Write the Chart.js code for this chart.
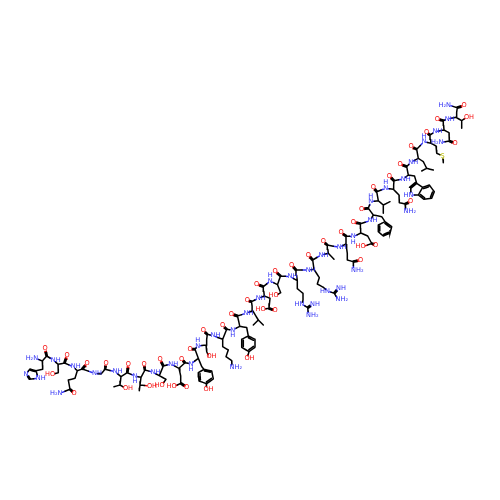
<!DOCTYPE html>
<html><head><meta charset="utf-8">
<style>html,body{margin:0;padding:0;background:#fff}canvas{display:block}</style>
<script src="https://cdn.jsdelivr.net/npm/chart.js@4"></script>
</head><body><canvas id="c" width="500" height="500"></canvas>
<script>
// backbone residues: id, N, CA, C, O, N label
const backboneAtoms = [
 [1, 35.7,358.3, 42.3,361, 46.7,356, 45,348.7, "H₂N"],
 [2, 53.3,360, 58,364.3, 64.5,363, 67,355.3, "NH"],
 [3, 73.3,366.7, 77.3,370.7, 82.3,369, 87,363.3, "NH"],
 [4, 94.5,373.3, 101,374, 105,369.3, 106,363.3, "NH"],
 [5, 115,371.7, 121,376.7, 127.3,372.7, 128.3,364.3, "NH"],
 [6, 135,376, 141,377.3, 145,370, 144,364, "N_"],
 [7, 153,372.3, 159.3,375.7, 163.3,366, 160,359.3, "NH"],
 [8, 170.7,364, 179,368.3, 185,362.7, 181.7,359.3, "NH"],
 [9, 191,364, 198.3,358.3, 195,349.3, 190,349, "N_"],
 [10, 197.7,346, 206,345, 207.3,334.3, 203.3,330.7, "N^"],
 [11, 213,335.7, 222.7,339.3, 226.7,329.3, 222.7,325.7, "NH"],
 [12, 232.7,330, 239.8,326.3, 237.5,316, 231.4,314, "N_"],
 [13, 246,313.3, 252.7,310.7, 251.5,301.7, 247.3,300.7, "NH"],
 [14, 258.3,298.3, 264.3,296, 263.3,286.7, 256.7,284, "NH"],
 [15, 270.3,281, 277.5,284.7, 280.5,276, 275,271, "N^"],
 [16, 290,276.7, 297.3,280.7, 296,270, 291.7,265, "NH"],
 [17, 308.3,270, 314,269.3, 312.7,260, 308.3,255, "NH"],
 [18, 321,255, 328.3,253.3, 327.3,245, 323.3,241.7, "NH"],
 [19, 339.3,247.3, 346,244, 346,236, 341,232.7, "NH"],
 [20, 353.3,236.7, 360.9,233, 360.4,223.7, 353.3,222.2, "N_"],
 [21, 370,220.7, 373.3,215, 368.3,208.3, 361.7,209, "NH"],
 [22, 370.7,201.7, 378.3,200.7, 376.7,191.7, 373.3,187.3, "N^"],
 [23, 385.7,188.3, 393.3,189.3, 394,180.7, 389.3,176, "N^"],
 [24, 403.3,179, 408.3,175, 406.7,166.7, 400,164, "NH"],
 [25, 410.7,162.3, 418.3,158.3, 416.7,149.3, 411,146.7, "NH"],
 [26, 424,141.7, 431,143.3, 430,135, 426.7,132.7, "N^"],
 [27, 435,131.7, 444,130, 443.3,120.7, 437.3,119, "NH"],
 [28, 447.3,119, 456,117.3, 457.3,107.7, 464,105.7, "NH"]
];
// side-chain atoms: id, x, y, element, label
const sideAtoms = [
 ["T",448.5,105,"N","H₂N"],
 ["1b",42.7,369.3,"C",""],["1g",36,370.7,"C",""],["1d",30,369,"C",""],["1e",26,374,"N","N"],["1f",29.3,379.3,"C",""],["1h",38.3,378.3,"N","NH"],
 ["2b",58.3,372.7,"C",""],["2o",52.5,374.3,"O","HO"],
 ["3b",75,378.3,"C",""],["3g",68.3,380,"C",""],["3d",70,389.3,"C",""],["3e",74,393,"O","O"],["3f",60,393.3,"N","H₂N"],
 ["5b",120,385,"C",""],["5m",114,386.7,"C",""],["5o",125.5,388.3,"O","OH"],
 ["6b",140,385,"C",""],["6m",139.3,390.7,"C",""],["6o",149.5,386,"O","OH"],
 ["7b",166,379.3,"C",""],["7o",162,385,"O","HO"],
 ["8b",180.7,376,"C",""],["8g",180.7,383.3,"C",""],["8o",186.7,387.3,"O","O"],["8p",174,386.7,"O","HO"],
 ["9b",201.7,366.5,"C",""],["9r1",204,369.3,"C",""],["9r2",211.7,371,"C",""],["9r3",213.3,379,"C",""],["9r4",206.7,383.7,"C",""],["9r5",199,381,"C",""],["9r6",198.3,372.7,"C",""],["9o",206,389.3,"O","OH"],
 ["10b",206.7,351.7,"C",""],["10o",209,356.7,"O","OH"],
 ["11b",222.7,346.7,"C",""],["11c",228.3,350,"C",""],["11d",226,356.7,"C",""],["11e",231.7,360.7,"C",""],["11f",232,367.5,"N","NH₂"],
 ["12b",246.7,327.5,"C",""],["12r1",248.3,336,"C",""],["12r2",255,339.3,"C",""],["12r3",255,347.3,"C",""],["12r4",249,351.7,"C",""],["12r5",241.7,347.3,"C",""],["12r6",241.7,339.3,"C",""],["12o",247,358.3,"O","OH"],
 ["13b",258.3,320,"C",""],["13m",253.3,325,"C",""],["13n",263.3,325,"C",""],
 ["14b",270,298.3,"C",""],["14g",269,308.3,"C",""],["14o",275,310.7,"O","O"],["14p",263,309.3,"O","HO"],
 ["15b",280.7,292.7,"C",""],["15o",276,295.5,"O","HO"],
 ["16b",297.3,288.7,"C",""],["16c",303,293.3,"C",""],["16d",303,300,"C",""],["16e",302,304,"N","HN"],["16f",307.7,307.7,"C",""],["16g",312.5,304.3,"N","NH"],["16h",308.5,315,"N","NH₂"],
 ["17b",319.3,277.7,"C",""],["17c",317.3,284,"C",""],["17d",323.3,287.3,"C",""],["17e",327.5,291,"N","HN"],["17f",334.3,293.3,"C",""],["17g",338.5,288.3,"N","NH"],["17h",338,299.3,"N","NH₂"],
 ["18b",334,259.3,"C",""],
 ["19b",347.3,253.3,"C",""],["19c",347.3,260,"C",""],["19d",353.3,261.7,"C",""],["19e",360.7,260,"O","O"],["19f",353.5,270,"N","NH₂"],
 ["20b",367.7,236,"C",""],["20g",371.7,243.5,"C",""],["20o",375.5,245,"O","O"],["20p",363,246.7,"O","HO"],
 ["21b",381.7,216.7,"C",""],["21r1",385,221.7,"C",""],["21r2",391.7,226.7,"C",""],["21r3",390,233.3,"C",""],["21r4",383.3,236,"C",""],["21r5",378.3,231.7,"C",""],["21r6",378.3,225,"C",""],
 ["22b",383.3,205,"C",""],["22m",390,201.7,"C",""],["22n",383.3,213.3,"C",""],
 ["23b",399,195,"C",""],["23c",399.3,202.7,"C",""],["23d",405,204,"C",""],["23e",410.7,201.7,"O","O"],["23f",406,211.7,"N","NH₂"],
 ["24b",414.5,176,"C",""],["24c",416.7,183.3,"C",""],["24d",410.7,188.3,"C",""],["24e",411,195,"N","HN"],["24f",418.3,195,"C",""],["24g",422.7,187.3,"C",""],["24h",429.3,185,"C",""],["24i",434.3,191.7,"C",""],["24j",431.7,198.3,"C",""],["24k",424,199.3,"C",""],
 ["25b",423.3,161.7,"C",""],["25c",426.7,168.3,"C",""],["25m",421.7,171,"C",""],["25n",433.3,170,"C",""],
 ["26b",436,146,"C",""],["26c",436.7,153.3,"C",""],["26s",442.7,156,"S","S"],["26m",443.3,162.7,"C",""],
 ["27b",449,132.7,"C",""],["27c",449.3,141,"C",""],["27o",455,143.3,"O","O"],["27n",441,142.3,"N","H₂N"],
 ["28b",461.7,120.7,"C",""],["28m",461.7,128.3,"C",""],["28o",466.5,117.3,"O","OH"]
];
const sideChains = [
 ["1A","1b","1g","1d","1e","1f","1h","1g"],["2A","2b","2o"],["3A","3b","3g","3d","3f"],
 ["5A","5b","5m"],["5b","5o"],["6A","6b","6m"],["6b","6o"],["7A","7b","7o"],
 ["8A","8b","8g","8p"],["9A","9b","9r1"],["9r4","9o"],["10A","10b","10o"],
 ["11A","11b","11c","11d","11e","11f"],["12A","12b","12r1"],["12r4","12o"],
 ["13A","13b","13m"],["13b","13n"],["14A","14b","14g","14p"],["15A","15b","15o"],
 ["16A","16b","16c","16d","16e","16f","16h"],["17A","17b","17c","17d","17e","17f","17h"],
 ["18A","18b"],["19A","19b","19c","19d","19f"],["20A","20b","20g","20p"],
 ["21A","21b","21r1"],["22A","22b","22m"],["22b","22n"],["23A","23b","23c","23d","23f"],
 ["24A","24b","24c","24d","24e","24f","24g","24c"],["24f","24k"],["24g","24h"],
 ["25A","25b","25c","25m"],["25c","25n"],["26A","26b","26c","26s","26m"],
 ["27A","27b","27c","27n"],["28A","28b","28m"],["28b","28o"],["28C","T"]
];
const sideDoubles = [["3d","3e"],["8g","8o"],["14g","14o"],["16f","16g"],["17f","17g"],["19d","19e"],["20g","20o"],["23d","23e"],["27c","27o"]];
const rings = [
 [["1g","1d","1e","1f","1h"],[0,2]],
 [["9r1","9r2","9r3","9r4","9r5","9r6"],[0,2,4]],
 [["12r1","12r2","12r3","12r4","12r5","12r6"],[0,2,4]],
 [["21r1","21r2","21r3","21r4","21r5","21r6"],[0,2,4]],
 [["24f","24g","24h","24i","24j","24k"],[1,3,5]]
];
const indoleDoubles = [["24c","24d"]];
const colors = {C:"#000000",N:"#2f2ff5",O:"#f50d0d",S:"#b8b800"};

const A = {};
backboneAtoms.forEach(r=>{const i=r[0];
 A[i+"N"]={x:r[1],y:r[2],el:"N",lab:r[9]};
 A[i+"A"]={x:r[3],y:r[4],el:"C",lab:""};
 A[i+"C"]={x:r[5],y:r[6],el:"C",lab:""};
 A[i+"O"]={x:r[7],y:r[8],el:"O",lab:"O"};
});
sideAtoms.forEach(r=>{A[r[0]]={x:r[1],y:r[2],el:r[3],lab:r[4]};});
const bonds=[], doubles=[];
backboneAtoms.forEach((r,k)=>{const i=r[0];
 bonds.push([i+"N",i+"A"],[i+"A",i+"C"]);
 doubles.push([i+"C",i+"O"]);
 if(k<backboneAtoms.length-1) bonds.push([i+"C",(i+1)+"N"]);
});
sideChains.forEach(c=>{for(let i=0;i<c.length-1;i++)bonds.push([c[i],c[i+1]]);});
sideDoubles.forEach(d=>doubles.push(d));
const series={C:[],N:[],O:[],S:[]};
function seg(el,x1,y1,x2,y2){series[el].push({x:x1,y:y1},{x:x2,y:y2},{x:null,y:null});}
function drawBond(a,b,ox,oy){
 const dx=b.x-a.x,dy=b.y-a.y,l=Math.hypot(dx,dy)||1,ux=dx/l,uy=dy/l,T=2.6;
 const ta=a.lab?T:0,tb=b.lab?T:0;
 const x1=a.x+ux*ta+ox,y1=a.y+uy*ta+oy,x2=b.x-ux*tb+ox,y2=b.y-uy*tb+oy;
 const mx=(a.x+b.x)/2+ox,my=(a.y+b.y)/2+oy;
 seg(a.el,x1,y1,mx,my);seg(b.el,mx,my,x2,y2);
}
bonds.forEach(b=>drawBond(A[b[0]],A[b[1]],0,0));
doubles.forEach(d=>{const a=A[d[0]],b=A[d[1]],dx=b.x-a.x,dy=b.y-a.y,l=Math.hypot(dx,dy)||1;
 const nx=-dy/l*0.7,ny=dx/l*0.7;drawBond(a,b,nx,ny);drawBond(a,b,-nx,-ny);});
rings.forEach(r=>{const ids=r[0],n=ids.length;let cx=0,cy=0;ids.forEach(i=>{cx+=A[i].x;cy+=A[i].y;});cx/=n;cy/=n;
 ids.forEach((id,i)=>{drawBond(A[id],A[ids[(i+1)%n]],0,0);});
 r[1].forEach(e=>{const p=A[ids[e]],q=A[ids[(e+1)%n]];
  const f=v=>({x:v.x+(cx-v.x)*0.24,y:v.y+(cy-v.y)*0.24,el:v.el,lab:v.lab});
  drawBond(f(p),f(q),0,0);});
});
indoleDoubles.forEach(d=>{const a=A[d[0]],b=A[d[1]];drawBond(a,b,-1.2,-1);});

const labelPlugin={id:"atomLabels",afterDatasetsDraw(ch){
 const c=ch.ctx,X=ch.scales.x,Y=ch.scales.y;c.save();
 c.font="6.6px 'DejaVu Sans'";c.textBaseline="middle";
 Object.values(A).forEach(a=>{if(!a.lab)return;
  const x=X.getPixelForValue(a.x),y=Y.getPixelForValue(a.y);c.fillStyle=colors[a.el];
  const first=a.el,w=c.measureText(first).width/2,L=a.lab;
  if(L==="N_"||L==="N^"){c.textAlign="center";c.fillText("N",x,y);c.fillText("H",x,y+(L==="N_"?5.6:-5.6));}
  else if(L.startsWith(first)&&L.length>1){c.textAlign="left";c.fillText(L,x-w,y);}
  else if(L.length>1){c.textAlign="right";c.fillText(L,x+w,y);}
  else{c.textAlign="center";c.fillText(L,x,y);}
 });c.restore();}};

new Chart(document.getElementById("c"),{type:"scatter",
 data:{datasets:Object.keys(series).map(k=>({data:series[k],showLine:true,spanGaps:false,borderColor:colors[k],borderWidth:1.5,pointRadius:0,borderCapStyle:"round"}))},
 options:{responsive:false,animation:false,devicePixelRatio:1,layout:{padding:0},
  plugins:{legend:{display:false},tooltip:{enabled:false}},
  scales:{x:{type:"linear",min:0,max:500,display:false},y:{type:"linear",min:0,max:500,reverse:true,display:false}}},
 plugins:[labelPlugin]});
</script></body></html>
